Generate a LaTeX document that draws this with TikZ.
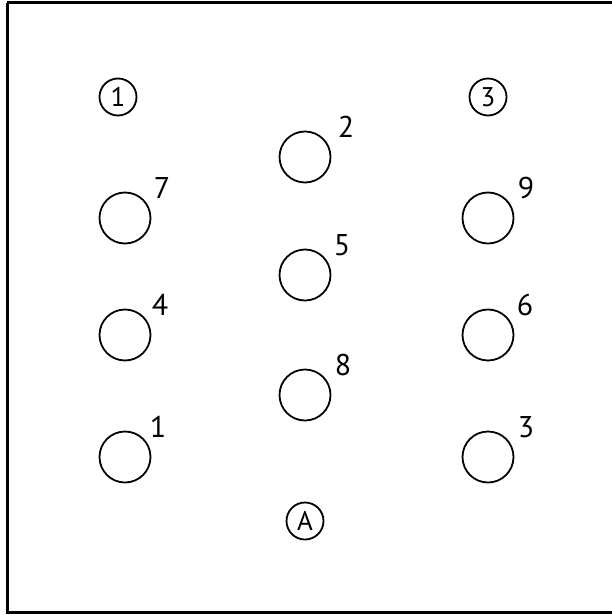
\documentclass[tikz,border=0pt]{standalone}
\usepackage{fontspec}
\setmainfont{PT Sans}
\begin{document}
\begin{tikzpicture}[x=1pt,y=-1pt,
  hole/.style={draw,circle,line width=1.8pt,minimum size=51pt,inner sep=0pt},
  refmark/.style={draw,circle,line width=1.8pt,minimum size=37pt,inner sep=0pt,font=\fontsize{27}{27}\selectfont},
  lab/.style={font=\fontsize{30}{30}\selectfont,inner sep=0pt,anchor=base}]
\useasboundingbox (0,0) rectangle (611,615);
\draw[line width=3pt] (7,3) -- (620,3) (7,3) -- (7,612) -- (620,612);
% marked circles
\node[refmark] (m1) at (118,97) {1};
\node[refmark] (m3) at (488,97) {3};
\node[refmark] (mA) at (305,521) {A};
% left column
\node[hole] (c7) at (125,218) {};
\node[hole] (c4) at (125,335) {};
\node[hole] (c1) at (125,457) {};
% middle column
\node[hole] (c2) at (305,157) {};
\node[hole] (c5) at (305,275) {};
\node[hole] (c8) at (305,395) {};
% right column
\node[hole] (c9) at (488,218) {};
\node[hole] (c6) at (488,335) {};
\node[hole] (c3) at (488,457) {};
% labels
\node[lab] (l7) at ([shift={(37,-20)}]c7) {7};
\node[lab] (l4) at ([shift={(35,-20)}]c4) {4};
\node[lab] (l1) at ([shift={(33,-20)}]c1) {1};
\node[lab] (l2) at ([shift={(41,-20)}]c2) {2};
\node[lab] (l5) at ([shift={(37,-20)}]c5) {5};
\node[lab] (l8) at ([shift={(38,-20)}]c8) {8};
\node[lab] (l9) at ([shift={(38,-20)}]c9) {9};
\node[lab] (l6) at ([shift={(37,-20)}]c6) {6};
\node[lab] (l3) at ([shift={(38,-20)}]c3) {3};
\end{tikzpicture}
\end{document}
